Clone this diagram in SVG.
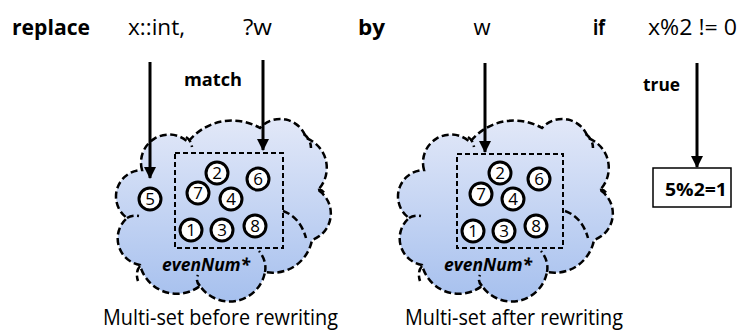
<svg xmlns="http://www.w3.org/2000/svg" width="740" height="331" viewBox="0 0 740 331">
<style>
text{font-family:"Open Sans","Liberation Sans",sans-serif;fill:#000}
.kw{font-weight:bold;font-size:22px}
.code{font-size:22px}
.lbl{font-weight:bold;font-size:18px}
.cap{font-size:21px}
.num{font-size:17px;text-anchor:middle}
.en{font-weight:bold;font-style:italic;font-size:18px}
.cloud{fill:url(#cg);stroke:#000;stroke-width:2.5;stroke-dasharray:7 3.5}
.crease{fill:none;stroke:#000;stroke-width:2.5;stroke-dasharray:7 3.5}
.sel{fill:none;stroke:#000;stroke-width:2;stroke-dasharray:5 3}
.ball{fill:#fff;stroke:#000;stroke-width:3}
.arr{stroke:#000;stroke-width:3;fill:none;marker-end:url(#ah)}
</style>
<defs>
<linearGradient id="cg" x1="0" y1="0" x2="0" y2="1">
<stop offset="0" stop-color="#e2e8f8"/>
<stop offset="1" stop-color="#a6c0ee"/>
</linearGradient>
<marker id="ah" markerUnits="userSpaceOnUse" markerWidth="12" markerHeight="12" refX="11" refY="6" orient="auto">
<path d="M0,0 L12,6 L0,12 z" fill="#000"/>
</marker>
<g id="cloudShape">
<path class="cloud" d="M142,170 A28,28 0 0 1 188,142 A56,56 0 0 1 260,128 A27,27 0 0 1 306,138 A32,32 0 0 1 318,190 A28,28 0 0 1 312,240 A40,40 0 0 1 265,272 A36,36 0 0 1 200,286 A38,38 0 0 1 140,265 A27,27 0 0 1 127,218 A26.5,26.5 0 0 1 142,170 Z"/>
<path class="crease" d="M186,137 Q191,140 192,147"/>
<path class="crease" d="M127,218 Q132,215 139,216"/>
<path class="crease" d="M140,266 Q135,272 138,281"/>
<path class="crease" d="M200,286 Q195,281 198,275"/>
<path class="crease" d="M304,134 Q311,140 311,148"/>
<path class="crease" d="M318,190 Q322,189 325,194"/>
<path class="crease" d="M283,211 Q300,217 306,238"/>
<path class="crease" d="M265,272 Q267,261 259,251"/>
</g>
</defs>

<g id="cloud-before">
<use href="#cloudShape"/>
<rect class="sel" x="175" y="153" width="108" height="95"/>
<text class="en" x="162" y="271" textLength="88" lengthAdjust="spacingAndGlyphs">evenNum*</text>
</g>
<g id="ball-5"><circle class="ball" cx="150" cy="199" r="11"/><text class="num" x="150" y="205">5</text></g>
<g id="ball-2"><circle class="ball" cx="217" cy="173" r="11"/><text class="num" x="217" y="179">2</text></g>
<g id="ball-6"><circle class="ball" cx="258" cy="179" r="11"/><text class="num" x="258" y="185">6</text></g>
<g id="ball-7"><circle class="ball" cx="198" cy="193" r="11"/><text class="num" x="198" y="199">7</text></g>
<g id="ball-4"><circle class="ball" cx="231" cy="199" r="11"/><text class="num" x="231" y="205">4</text></g>
<g id="ball-1"><circle class="ball" cx="191" cy="230" r="11"/><text class="num" x="191" y="236">1</text></g>
<g id="ball-3"><circle class="ball" cx="222" cy="230" r="11"/><text class="num" x="222" y="236">3</text></g>
<g id="ball-8"><circle class="ball" cx="255" cy="226" r="11"/><text class="num" x="255" y="232">8</text></g>

<g id="cloud-after">
<use href="#cloudShape" transform="translate(282,0)"/>
<rect class="sel" x="457" y="154" width="106" height="94"/>
<text class="en" x="444" y="271" textLength="88" lengthAdjust="spacingAndGlyphs">evenNum*</text>
</g>
<g id="ball-2b"><circle class="ball" cx="500" cy="173" r="11"/><text class="num" x="500" y="179">2</text></g>
<g id="ball-6b"><circle class="ball" cx="539" cy="179" r="11"/><text class="num" x="539" y="185">6</text></g>
<g id="ball-7b"><circle class="ball" cx="481" cy="194" r="11"/><text class="num" x="481" y="200">7</text></g>
<g id="ball-4b"><circle class="ball" cx="513" cy="199" r="11"/><text class="num" x="513" y="205">4</text></g>
<g id="ball-1b"><circle class="ball" cx="473" cy="231" r="11"/><text class="num" x="473" y="237">1</text></g>
<g id="ball-3b"><circle class="ball" cx="504" cy="231" r="11"/><text class="num" x="504" y="237">3</text></g>
<g id="ball-8b"><circle class="ball" cx="536" cy="226" r="11"/><text class="num" x="536" y="232">8</text></g>

<g id="result">
<rect x="653" y="168" width="78" height="39" fill="#fff" stroke="#000" stroke-width="1.5"/>
<text class="lbl" x="665" y="196" font-size="20" textLength="62" lengthAdjust="spacingAndGlyphs">5%2=1</text>
</g>

<g id="rule">
<text class="kw" x="12" y="35" textLength="78" lengthAdjust="spacingAndGlyphs">replace</text>
<text class="code" x="128" y="35" textLength="57" lengthAdjust="spacingAndGlyphs">x::int,</text>
<text class="code" x="243" y="35" textLength="29" lengthAdjust="spacingAndGlyphs">?w</text>
<text class="kw" x="358" y="35" textLength="27" lengthAdjust="spacingAndGlyphs">by</text>
<text class="code" x="482" y="35" text-anchor="middle">w</text>
<text class="kw" x="593" y="35" textLength="12" lengthAdjust="spacingAndGlyphs">if</text>
<text class="code" x="648" y="35" textLength="89" lengthAdjust="spacingAndGlyphs">x%2 != 0</text>
</g>

<g id="connectors">
<line class="arr" x1="150" y1="62" x2="150" y2="178"/>
<line class="arr" x1="263" y1="60" x2="263" y2="150"/>
<line class="arr" x1="485" y1="63" x2="485" y2="152"/>
<line class="arr" x1="697" y1="63" x2="697" y2="167"/>
<text class="lbl" x="184" y="86" textLength="58" lengthAdjust="spacingAndGlyphs">match</text>
<text class="lbl" x="643" y="91" textLength="37" lengthAdjust="spacingAndGlyphs">true</text>
</g>

<g id="captions">
<text class="cap" x="103" y="325" textLength="235" lengthAdjust="spacingAndGlyphs">Multi-set before rewriting</text>
<text class="cap" x="405" y="325" textLength="218" lengthAdjust="spacingAndGlyphs">Multi-set after rewriting</text>
</g>
</svg>
